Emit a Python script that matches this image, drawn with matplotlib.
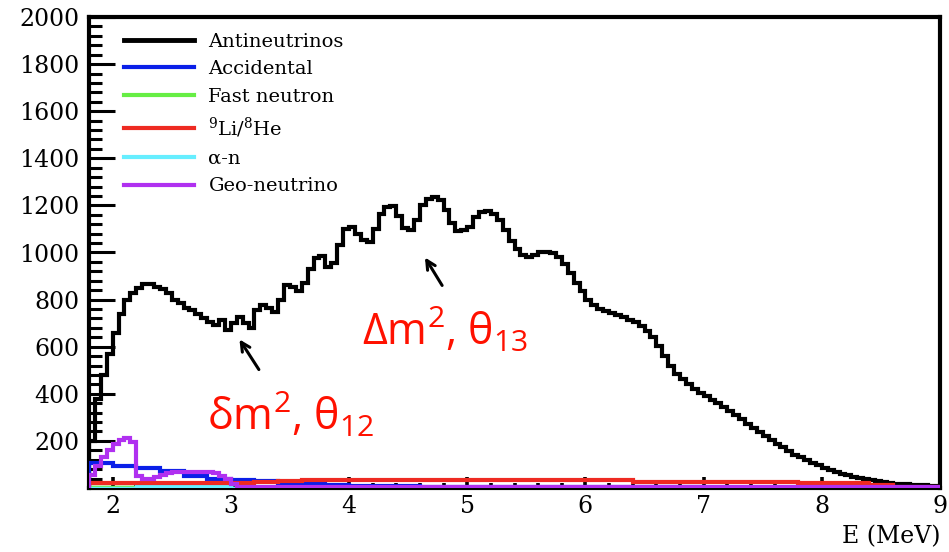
import numpy as np
import matplotlib
matplotlib.use("Agg")
import matplotlib.pyplot as plt
from matplotlib.lines import Line2D

plt.rcParams['mathtext.fontset'] = 'custom'
plt.rcParams['mathtext.rm'] = 'Open Sans'
plt.rcParams['mathtext.it'] = 'Open Sans:italic'
plt.rcParams['mathtext.bf'] = 'Open Sans:bold'

# ---------------- data ----------------
# Antineutrino spectrum, 0.05 MeV bins from 1.8 to 9.0 MeV
anti_edges = np.round(np.arange(1.8, 9.0 + 1e-9, 0.05), 3)
antineutrinos = [
    200, 380, 480, 570,
    660, 740, 800, 830, 850, 865, 868, 855, 845, 828, 800, 785, 765, 755, 740, 722, 705, 692, 713, 671,
    700, 726, 700, 679, 756, 777, 765, 747, 800, 862, 853, 835, 870, 930, 975, 985, 940, 955, 1030, 1100,
    1108, 1080, 1055, 1045, 1100, 1165, 1195, 1198, 1155, 1105, 1095, 1140, 1200, 1228, 1236, 1222, 1180, 1125, 1092, 1095,
    1110, 1150, 1172, 1176, 1165, 1140, 1095, 1050, 1015, 990, 981, 990, 1002, 1004, 998, 980, 950, 915, 870, 838,
    800, 775, 762, 750, 742, 733, 726, 715, 705, 690, 668, 640, 605, 560, 520, 485, 462, 440, 420, 405,
    390, 375, 362, 345, 328, 310, 292, 272, 255, 238, 222, 205, 188, 172, 157, 142, 130, 118, 106, 96,
    86, 76, 68, 60, 54, 48, 42, 37, 33, 28, 25, 22, 19, 17, 15, 13, 12, 11, 10, 9,
]

# Geo-neutrino, 0.05 MeV bins to 3.1 MeV, then one wide bin
geo_edges = np.concatenate([np.round(np.arange(1.8, 3.1 + 1e-9, 0.05), 3), [9.0]])
geo_neutrino = [
    55, 95, 130, 160, 185, 205, 212, 195, 50, 38, 38, 45, 55,
    62, 66, 68, 68, 68, 68, 68, 66, 62, 50, 38, 15, 4,
    3,
]

# Backgrounds, 0.2 MeV bins
bkg_edges = np.round(np.arange(1.8, 9.0 + 1e-9, 0.2), 3)
accidental = [108, 95, 86, 72, 52, 40, 32, 28, 22, 17, 13, 10, 8,
              7, 6, 6, 5, 5, 4, 4, 4, 3, 3, 3, 3, 3, 2, 2, 2, 2, 2, 2, 2, 2, 2, 2]
fast_neutron = [6, 6, 2, 2, 2, 2, 2, 2, 2, 2, 2, 2, 2, 2, 2, 2, 2, 2,
                2, 2, 2, 2, 2, 2, 2, 2, 2, 2, 2, 2, 2, 2, 2, 2, 2, 2]
li_he = [20, 20, 20, 20, 20, 20, 22, 25, 28,
         32, 32, 32, 32, 32, 32, 32, 32, 32, 32, 32, 32, 32, 32,
         26, 26, 26, 26, 26, 26, 26, 20, 20, 20, 12, 6, 3]
alpha_n = [2, 2, 7, 7, 7, 7, 1, 1, 1, 1, 1, 1, 1, 1, 1, 1, 1, 1,
           1, 1, 1, 1, 1, 1, 1, 1, 1, 1, 1, 1, 1, 1, 1, 1, 1, 1]

series_labels = ['Antineutrinos', 'Accidental', 'Fast neutron',
                 r'$\mathregular{^{9}}$Li/$\mathregular{^{8}}$He', 'α-n', 'Geo-neutrino']
series_colors = ['#000000', '#0a1fe8', '#66ee44', '#ee2a22', '#66eeff', '#b030f0']

y_ticks = list(range(0, 2001, 200))
y_ticklabels = [''] + [str(v) for v in y_ticks[1:]]
x_ticks = [2, 3, 4, 5, 6, 7, 8, 9]

# ---------------- figure ----------------
fig = plt.figure(figsize=(9.49, 5.52), dpi=100)
ax = fig.add_axes([89 / 949, 1 - 488 / 552, (940 - 89) / 949, (488 - 17) / 552])

ax.stairs(antineutrinos, anti_edges, color=series_colors[0], lw=3.0, zorder=3)
ax.stairs(accidental, bkg_edges, color=series_colors[1], lw=3.0, zorder=4)
ax.stairs(fast_neutron, bkg_edges, color=series_colors[2], lw=2.5, zorder=4)
ax.stairs(alpha_n, bkg_edges, color=series_colors[4], lw=2.5, zorder=5)
ax.stairs(li_he, bkg_edges, color=series_colors[3], lw=3.0, zorder=6)
ax.stairs(geo_neutrino, geo_edges, color=series_colors[5], lw=3.0, zorder=7)

ax.set_xlim(1.8, 9.0)
ax.set_ylim(0, 2000)

serif = 'DejaVu Serif'
ax.set_yticks(y_ticks)
ax.set_yticklabels(y_ticklabels, fontfamily=serif, fontsize=17)
ax.set_yticks(np.arange(0, 2001, 40), minor=True)
ax.set_xticks(x_ticks)
ax.set_xticklabels([str(v) for v in x_ticks], fontfamily=serif, fontsize=17)
ax.set_xticks(np.round(np.arange(1.8, 9.0001, 0.2), 2), minor=True)

ax.tick_params(axis='y', which='major', direction='in', length=19, width=2.2, pad=7)
ax.tick_params(axis='y', which='minor', direction='in', length=9.5, width=2.2)
ax.tick_params(axis='x', which='major', direction='in', length=8, width=2.6, pad=5)
ax.tick_params(axis='x', which='minor', direction='in', length=3.5, width=2.6)

for s in ax.spines.values():
    s.set_linewidth(3.0)

ax.set_xlabel('E (MeV)', loc='right', fontfamily=serif, fontsize=17, labelpad=5)

handles = [Line2D([], [], color=c, lw=(3.5 if i == 0 else 3.0)) for i, c in enumerate(series_colors)]
leg = ax.legend(handles, series_labels, loc='upper left', bbox_to_anchor=(0.041, 0.967),
                frameon=False, borderpad=0, borderaxespad=0, handlelength=3.6,
                handletextpad=0.75, labelspacing=0.50, prop={'family': serif, 'size': 14})

# annotations
ax.text(2.80, 246, 'δm$^2$, θ$_{12}$', color='#ff1100', fontsize=31,
        fontfamily='Open Sans', va='baseline', ha='left', zorder=8)
ax.text(4.11, 607, 'Δm$^2$, θ$_{13}$', color='#ff1100', fontsize=31,
        fontfamily='Open Sans', va='baseline', ha='left', zorder=8)
arrow_kw = dict(arrowstyle='->', color='black', lw=2.2, mutation_scale=16)
ax.annotate('', xy=(3.06, 641), xytext=(3.25, 493), arrowprops=arrow_kw)
ax.annotate('', xy=(4.63, 989), xytext=(4.80, 850), arrowprops=arrow_kw)

fig.savefig('out.png', dpi=100)
